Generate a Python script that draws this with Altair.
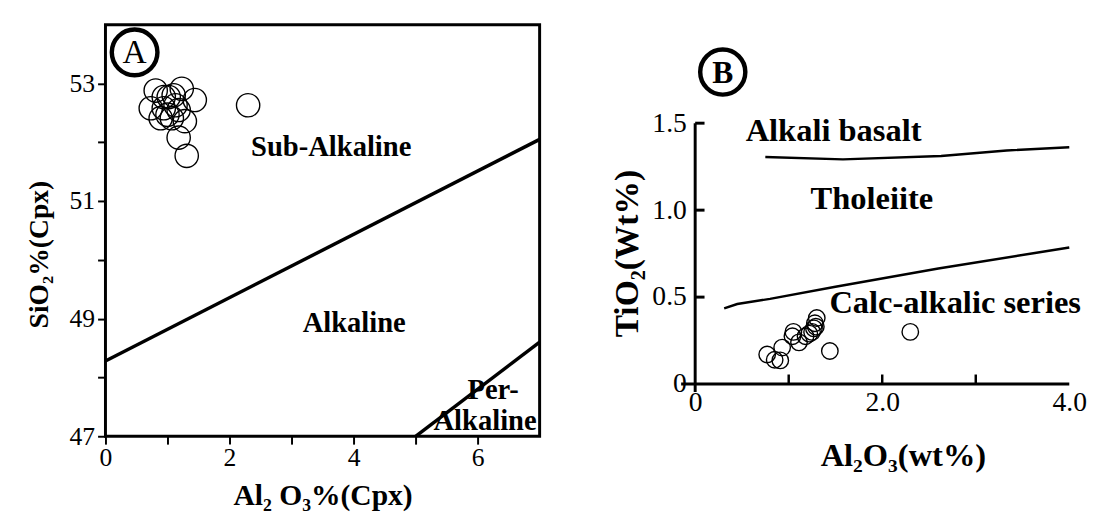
import altair as alt
import pandas as pd

FONT = "Liberation Serif"

# ---------------- Panel A data ----------------
a_al2o3 = [0.81, 1.23, 1.44, 0.73, 0.94, 1.02, 1.13, 0.89, 1.07, 1.28, 1.18, 1.31, 2.30, 0.94, 1.10, 1.18, 1.00]
a_sio2 = [52.88, 52.91, 52.72, 52.58, 52.58, 52.77, 52.63, 52.41, 52.41, 52.36, 52.08, 51.77, 52.63, 52.77, 52.80, 52.55, 52.47]

a_line_seg = ["upper", "upper", "lower", "lower"]
a_line_al = [0.0, 7.0, 5.0, 7.0]
a_line_si = [48.28, 52.05, 47.0, 48.6]

a_labels = ["Sub-Alkaline", "Alkaline", "Per-", "Alkaline"]
a_label_al = [3.64, 4.01, 6.25, 6.12]
a_label_si = [51.91, 48.93, 47.78, 47.25]

a_xticks = [0, 1, 2, 3, 4, 5, 6]
a_yticks = [47, 48, 49, 50, 51, 52, 53]

a_tag = ["A"]
a_tag_al = [0.47]
a_tag_si = [53.53]

# ---------------- Panel B data ----------------
b_al2o3 = [0.77, 0.85, 0.91, 0.93, 1.04, 1.05, 1.11, 1.18, 1.25, 1.27, 1.28, 1.30, 1.22, 1.29, 1.44, 2.30]
b_tio2 = [0.17, 0.14, 0.136, 0.21, 0.275, 0.30, 0.24, 0.275, 0.30, 0.32, 0.35, 0.38, 0.29, 0.33, 0.19, 0.30]

b_alk_al = [0.75, 1.58, 2.63, 3.33, 4.0]
b_alk_ti = [1.306, 1.292, 1.311, 1.343, 1.362]
b_calc_al = [0.31, 0.45, 0.8, 1.5, 2.6, 4.0]
b_calc_ti = [0.435, 0.46, 0.49, 0.56, 0.665, 0.785]

b_labels = ["Alkali basalt", "Tholeiite", "Calc-alkalic series"]
b_label_al = [1.48, 1.89, 2.78]
b_label_ti = [1.455, 1.066, 0.464]

b_xticks = [1, 2, 3]
b_yticks = [0.5, 1.0, 1.5]
b_xlabels = [0, 2, 4]
b_ylabels = [0, 0.5, 1.0, 1.5]

b_tag = ["B"]
b_tag_al = [0.295]
b_tag_ti = [1.794]

# ---------------- Panel A ----------------
def xa():
    return alt.X("x:Q", scale=alt.Scale(domain=[0, 7], nice=False, zero=False),
                 axis=alt.Axis(values=a_xticks, title="Al\u2082 O\u2083%(Cpx)",
                               labelExpr="datum.value % 2 == 0 ? datum.label : ''",
                               domain=False, tickSize=8, tickWidth=2, tickColor="black",
                               labelFontSize=26, labelPadding=1, labelFlush=False,
                               titleFontSize=30, titleFontWeight="bold", titlePadding=10))

def ya():
    return alt.Y("y:Q", scale=alt.Scale(domain=[47, 54], nice=False, zero=False),
                 axis=alt.Axis(values=a_yticks, title="SiO\u2082%(Cpx)",
                               labelExpr="datum.value % 2 == 1 ? datum.label : ''",
                               domain=False, tickSize=8, tickWidth=2, tickColor="black",
                               labelFontSize=26, labelPadding=3, labelFlush=False,
                               titleFontSize=28, titleFontWeight="bold", titlePadding=16,
                               titleY=233))

a_pts = alt.Chart(pd.DataFrame({"x": a_al2o3, "y": a_sio2})).mark_point(
    shape="circle", filled=False, color="black", size=560, strokeWidth=1.4, opacity=1
).encode(x=xa(), y=ya())

a_lines = alt.Chart(pd.DataFrame({"x": a_line_al, "y": a_line_si, "seg": a_line_seg})).mark_line(
    color="black", strokeWidth=3.5
).encode(x=xa(), y=ya(), detail="seg:N")

a_text = alt.Chart(pd.DataFrame({"x": a_label_al, "y": a_label_si, "t": a_labels})).mark_text(
    font=FONT, fontSize=29, fontWeight="bold", color="black"
).encode(x=xa(), y=ya(), text="t:N")

a_circ = alt.Chart(pd.DataFrame({"x": a_tag_al, "y": a_tag_si})).mark_point(
    shape="circle", filled=False, color="black", size=2150, strokeWidth=4.5, opacity=1
).encode(x=xa(), y=ya())

a_letter = alt.Chart(pd.DataFrame({"x": a_tag_al, "y": a_tag_si, "t": a_tag})).mark_text(
    font=FONT, fontSize=34, color="black", baseline="middle", dy=1
).encode(x=xa(), y=ya(), text="t:N")

panel_a = alt.layer(a_pts, a_lines, a_text, a_circ, a_letter).properties(
    width=441, height=418, view=alt.ViewBackground(stroke="black", strokeWidth=3)
)

# ---------------- Panel B ----------------
def xb():
    return alt.X("x:Q", scale=alt.Scale(domain=[0, 4], nice=False, zero=False),
                 axis=alt.Axis(values=b_xlabels, title="Al\u2082O\u2083(wt%)",
                               labelExpr="datum.value == 0 ? '0' : format(datum.value, '.1f')",
                               domain=False, ticks=False, labelFontSize=28, labelPadding=5,
                               labelFlush=False, titleFontSize=33, titleFontWeight="bold",
                               titlePadding=24, titleX=211))

def yb():
    return alt.Y("y:Q", scale=alt.Scale(domain=[0, 2.066], nice=False, zero=False),
                 axis=alt.Axis(values=b_ylabels, title="TiO\u2082(Wt%)",
                               labelExpr="datum.value == 0 ? '0' : format(datum.value, '.1f')",
                               domain=False, ticks=False, labelFontSize=28, labelPadding=9,
                               labelFlush=False, titleFontSize=34, titleFontWeight="bold",
                               titlePadding=8, titleY=232))

b_xaxis = alt.Chart(pd.DataFrame({"x": [-0.15], "x2": [4.0], "y": [0.0]})).mark_rule(
    color="black", strokeWidth=3
).encode(x=xb(), x2="x2:Q", y=yb())

b_yaxis = alt.Chart(pd.DataFrame({"x": [0.0], "y": [-0.045], "y2": [1.5]})).mark_rule(
    color="black", strokeWidth=3
).encode(x=xb(), y=yb(), y2="y2:Q")

b_ytick = alt.Chart(pd.DataFrame({"y": b_yticks})).transform_calculate(
    x="0", x2="0.1"
).mark_rule(color="black", strokeWidth=3).encode(x=xb(), x2="x2:Q", y=yb())

b_xtick = alt.Chart(pd.DataFrame({"x": b_xticks})).transform_calculate(
    y="0", y2="0.055"
).mark_rule(color="black", strokeWidth=2.5).encode(x=xb(), y=yb(), y2="y2:Q")

b_bound = alt.Chart(pd.DataFrame({
    "x": b_alk_al + b_calc_al,
    "y": b_alk_ti + b_calc_ti,
    "seg": ["alk"] * len(b_alk_al) + ["calc"] * len(b_calc_al),
})).mark_line(color="black", strokeWidth=2.5).encode(x=xb(), y=yb(), detail="seg:N")

b_pts = alt.Chart(pd.DataFrame({"x": b_al2o3, "y": b_tio2})).mark_point(
    shape="circle", filled=False, color="black", size=280, strokeWidth=1.4, opacity=1
).encode(x=xb(), y=yb())

b_text = alt.Chart(pd.DataFrame({"x": b_label_al, "y": b_label_ti, "t": b_labels})).mark_text(
    font=FONT, fontSize=33, fontWeight="bold", color="black"
).encode(x=xb(), y=yb(), text="t:N")

b_circ = alt.Chart(pd.DataFrame({"x": b_tag_al, "y": b_tag_ti})).mark_point(
    shape="circle", filled=False, color="black", size=2100, strokeWidth=4.5, opacity=1
).encode(x=xb(), y=yb())

b_letter = alt.Chart(pd.DataFrame({"x": b_tag_al, "y": b_tag_ti, "t": b_tag})).mark_text(
    font=FONT, fontSize=32, fontWeight="bold", color="black", baseline="middle", dy=1
).encode(x=xb(), y=yb(), text="t:N")

panel_b = alt.layer(b_xaxis, b_yaxis, b_ytick, b_xtick, b_bound, b_pts, b_text, b_circ, b_letter).properties(
    width=380, height=365, view=alt.ViewBackground(stroke="transparent")
)

chart = alt.hconcat(panel_a, panel_b, spacing=62).properties(
    padding={"left": 16, "top": 7, "right": 0, "bottom": 0}
).configure(font=FONT).configure_axis(
    grid=False, labelFont=FONT, titleFont=FONT, labelColor="black", titleColor="black",
    labelFontWeight="normal"
).configure_view(stroke="transparent")

chart.save("out.html", embed_options={"renderer": "svg", "actions": False})
